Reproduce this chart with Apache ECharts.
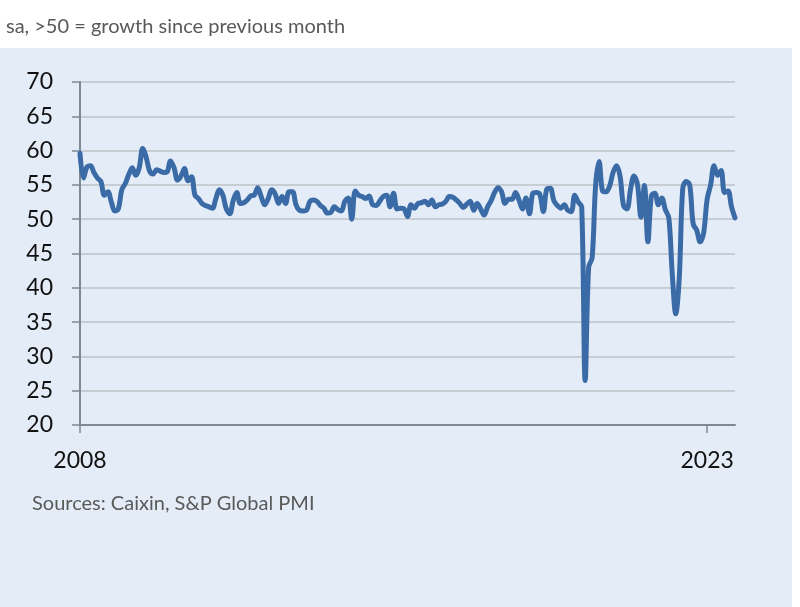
<!DOCTYPE html>
<html>
<head>
<meta charset="utf-8">
<script src="https://cdn.jsdelivr.net/npm/echarts@6/dist/echarts.min.js"></script>
<style>html,body{margin:0;padding:0;background:#fff}#c{width:800px;height:607px}</style>
</head>
<body>
<div id="c"></div>
<script>
const subtitle = 'sa, >50 = growth since previous month';
const sourceText = 'Sources: Caixin, S&P Global PMI';
const startYear = 2008;
const xTickLabels = ['2008', '2023'];
const yTickMin = 20, yTickMax = 70, yTickStep = 5;

const v2008 = [59.6, 56.0, 57.6, 57.8, 56.8, 56.0, 55.5, 53.5, 54.0, 52.5, 51.2, 51.5];
const v2009 = [54.3, 55.2, 56.5, 57.5, 56.4, 57.5, 60.3, 59.0, 57.0, 56.6, 57.2, 57.0];
const v2010 = [56.8, 56.9, 58.5, 57.5, 55.7, 56.3, 57.4, 55.6, 56.2, 53.5, 53.0, 52.3];
const v2011 = [52.0, 51.8, 51.6, 53.0, 54.3, 53.5, 51.5, 50.8, 52.8, 53.9, 52.3, 52.4];
const v2012 = [52.8, 53.4, 53.5, 54.6, 53.3, 52.1, 53.0, 54.3, 53.7, 52.3, 53.3, 52.3];
const v2013 = [54.0, 54.0, 52.1, 51.3, 51.2, 51.3, 52.6, 52.8, 52.6, 52.0, 51.6, 50.9];
const v2014 = [51.0, 51.8, 51.4, 51.2, 52.6, 53.1, 50.0, 54.1, 53.5, 53.3, 53.0, 53.4];
const v2015 = [52.1, 52.0, 52.6, 53.3, 53.5, 51.8, 53.8, 51.5, 51.6, 51.5, 50.4, 52.1];
const v2016 = [51.6, 52.3, 52.4, 52.6, 52.1, 52.8, 51.8, 52.1, 52.2, 52.6, 53.3, 53.2];
const v2017 = [52.8, 52.3, 51.7, 52.2, 52.6, 51.3, 52.3, 51.5, 50.6, 51.8, 52.7, 53.9];
const v2018 = [54.6, 54.0, 52.3, 52.9, 52.9, 53.9, 52.8, 51.5, 53.1, 50.8, 53.8, 53.9];
const v2019 = [53.6, 51.1, 54.4, 54.5, 52.7, 52.0, 51.6, 52.1, 51.3, 51.1, 53.5, 52.5];
const v2020 = [51.8, 26.5, 43.0, 44.4, 55.0, 58.4, 54.1, 54.0, 54.8, 56.8, 57.8, 56.3];
const v2021 = [52.0, 51.5, 54.3, 56.3, 55.1, 50.3, 54.9, 46.7, 53.4, 53.8, 52.1, 53.1];
const v2022 = [51.4, 50.2, 42.0, 36.2, 41.4, 54.5, 55.5, 55.0, 49.3, 48.4, 46.7, 48.0];
const v2023 = [52.9, 55.0, 57.8, 56.4, 57.1, 53.9, 54.1, 51.8, 50.2];

const pmi = [].concat(v2008, v2009, v2010, v2011, v2012, v2013, v2014, v2015,
  v2016, v2017, v2018, v2019, v2020, v2021, v2022, v2023);
const months = pmi.map((_, i) => {
  const y = startYear + Math.floor(i / 12);
  const m = (i % 12) + 1;
  return y + '-' + (m < 10 ? '0' + m : m);
});
const isYearTick = (i) => {
  const c = months[i];
  return c.slice(5) === '01' && xTickLabels.indexOf(c.slice(0, 4)) >= 0;
};

const FONT = 'Lato';
const chart = echarts.init(document.getElementById('c'), null, {renderer: 'canvas'});
chart.setOption({
  backgroundColor: '#ffffff',
  animation: false,
  textStyle: {fontFamily: FONT},
  title: {
    text: subtitle,
    left: 1, top: 12,
    textStyle: {fontFamily: FONT, fontSize: 20, fontWeight: 'normal', color: '#595959'}
  },
  graphic: [
    {type: 'rect', z: -100, silent: true, shape: {x: 0, y: 48, width: 792, height: 559}, style: {fill: '#e3ecf7'}},
    {type: 'text', left: 32, top: 494, silent: true,
     style: {text: sourceText, fontFamily: FONT, fontSize: 20, fill: '#595959'}}
  ],
  grid: {left: 80, right: 65, top: 82, bottom: 182, containLabel: false},
  xAxis: {
    type: 'category',
    data: months,
    boundaryGap: false,
    axisLine: {show: true, lineStyle: {color: '#7f8994', width: 2}},
    axisTick: {show: true, length: 8, interval: (i) => isYearTick(i), lineStyle: {color: '#7f8994', width: 1.5}},
    axisLabel: {
      show: true, interval: (i) => isYearTick(i), margin: 24,
      formatter: (v) => v.slice(0, 4),
      fontFamily: FONT, fontSize: 23, color: '#111'
    },
    splitLine: {show: false}
  },
  yAxis: {
    type: 'value',
    min: yTickMin, max: yTickMax, interval: yTickStep,
    axisLine: {show: true, lineStyle: {color: '#7f8994', width: 2}},
    axisTick: {show: true, length: 8, lineStyle: {color: '#7f8994', width: 1.5}},
    axisLabel: {margin: 27, fontFamily: FONT, fontSize: 23, color: '#111'},
    splitLine: {show: true, lineStyle: {color: '#bfc3c8', width: 1.5}}
  },
  series: [{
    type: 'line',
    data: pmi,
    smooth: 0.35,
    showSymbol: false,
    symbol: 'none',
    lineStyle: {color: '#3b6ba6', width: 5, cap: 'round', join: 'round'},
    z: 3
  }]
});
</script>
</body>
</html>
